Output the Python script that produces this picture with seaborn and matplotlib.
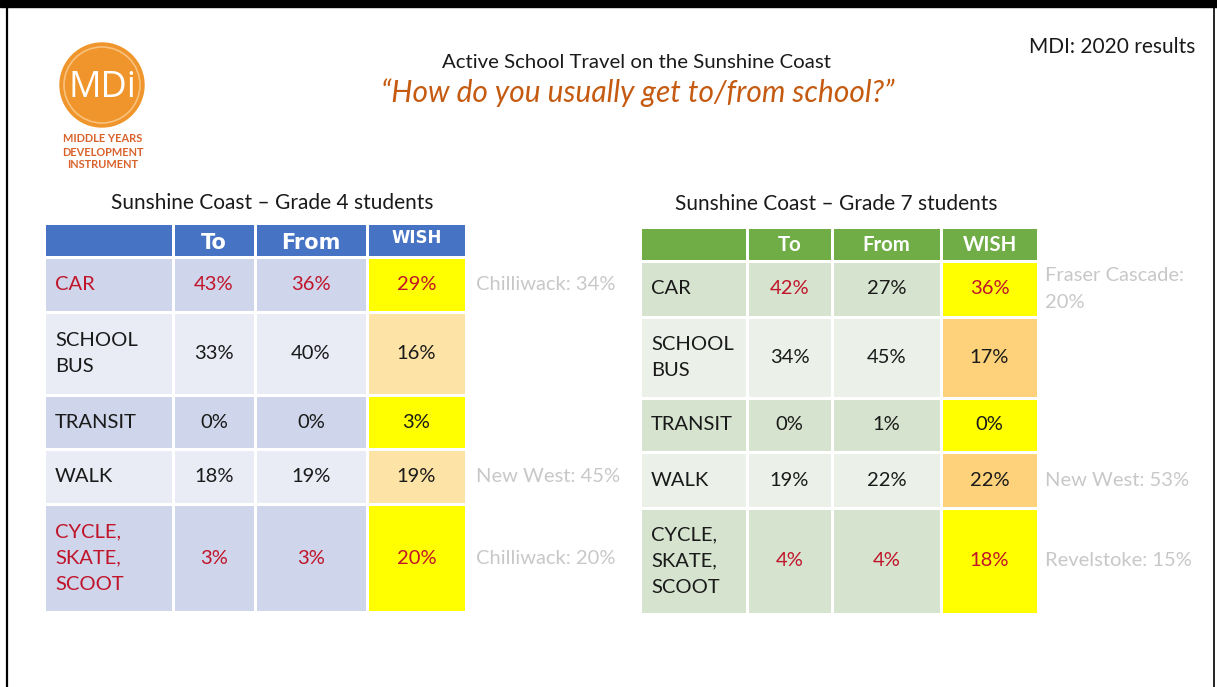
import numpy as np
import matplotlib
matplotlib.use('Agg')
import matplotlib.pyplot as plt
import matplotlib.colors as mcolors
from matplotlib.patches import Circle, Rectangle
import seaborn as sns

# Data
modes = ["CAR", "SCHOOL\nBUS", "TRANSIT", "WALK", "CYCLE,\nSKATE,\nSCOOT"]
columns = ["To", "From", "WISH"]

g4_to = [43, 33, 0, 18, 3]
g4_from = [36, 40, 0, 19, 3]
g4_wish = [29, 16, 3, 19, 20]
g4_notes = ["Chilliwack: 34%", "", "", "New West: 45%", "Chilliwack: 20%"]

g7_to = [42, 34, 0, 19, 4]
g7_from = [27, 45, 1, 22, 4]
g7_wish = [36, 17, 0, 22, 18]
g7_notes = ["Fraser Cascade:\n20%", "", "", "New West: 53%", "Revelstoke: 15%"]

sns.set_theme(style="white")
plt.rcParams['font.family'] = ['Lato', 'DejaVu Sans']

RED = '#c0142a'
NOTE = '#c8c8c8'
FS = 14.5


def draw_table(ax, title, title_xy, x_edges, y_edges, values, notes, header_color,
               bands, wish_colors, red_cells, header_font, note_x):
    n_rows = len(modes) + 1
    rgb = np.ones((n_rows, 4, 3))
    rgb[0, :] = mcolors.to_rgb(header_color)
    for i in range(len(modes)):
        band = mcolors.to_rgb(bands[i % 2])
        rgb[i + 1, :3] = band
        rgb[i + 1, 3] = mcolors.to_rgb(wish_colors[i])
    ax.pcolormesh(x_edges, y_edges, rgb, edgecolors='white', linewidth=1.8)

    xc = [(x_edges[j] + x_edges[j + 1]) / 2 for j in range(4)]
    yc = [(y_edges[i] + y_edges[i + 1]) / 2 for i in range(n_rows)]

    ax.text(title_xy[0], title_xy[1], title, ha='center', va='center',
            fontsize=15, color='#1a1a1a')
    family, sizes, dy = header_font
    for j, col in enumerate(columns):
        ax.text(xc[j + 1], yc[0] + dy[j], col, ha='center', va='center',
                fontsize=sizes[j], fontweight='bold', color='white',
                family=family)

    for i, mode in enumerate(modes):
        row_vals = [values[0][i], values[1][i], values[2][i]]
        label_red = red_cells[i][0]
        ax.text(x_edges[0] + 11, yc[i + 1], mode, ha='left', va='center',
                fontsize=FS, linespacing=1.65,
                color=RED if label_red else '#1a1a1a')
        for j, v in enumerate(row_vals):
            ax.text(xc[j + 1], yc[i + 1], f"{v}%", ha='center', va='center',
                    fontsize=FS, color=RED if red_cells[i][j + 1] else '#1a1a1a')
        if notes[i]:
            ax.text(note_x, yc[i + 1], notes[i], ha='left', va='center',
                    fontsize=FS, color=NOTE, linespacing=1.65)


fig = plt.figure(figsize=(12.17, 6.87), dpi=100)
ax = fig.add_axes([0, 0, 1, 1])
ax.set_xlim(0, 1217)
ax.set_ylim(687, 0)
ax.axis('off')

# slide frame
ax.add_patch(Rectangle((0, 0), 1217, 7, color='black'))
ax.plot([6.5, 6.5], [0, 687], color='black', lw=1.6)
ax.plot([1213.5, 1213.5], [0, 687], color='black', lw=1.2)

# logo
ax.add_patch(Circle((102, 85), 42, color='#f0952b'))
ax.add_patch(Circle((102, 85), 38, fill=False, ec='#f8c27e', lw=1.2))
ax.text(102, 88, "MDi", ha='center', va='center', fontsize=26,
        color='white', family='Open Sans')
for k, line in enumerate(["MIDDLE YEARS", "DEVELOPMENT", "INSTRUMENT"]):
    ax.text(103, 139 + k * 13, line, ha='center', va='center', fontsize=7.9,
            color='#d9622b', fontweight='bold')

# titles
ax.text(636, 62, "Active School Travel on the Sunshine Coast", ha='center',
        va='center', fontsize=14.7, color='#1a1a1a')
ax.text(638, 93, "\u201cHow do you usually get to/from school?\u201d", ha='center',
        va='center', fontsize=21.5, style='italic', color='#c55a11')
ax.text(1195, 47, "MDI: 2020 results", ha='right', va='center',
        fontsize=15, color='#1a1a1a')

red_g4 = [[True, True, True, True], [False] * 4, [False] * 4, [False] * 4,
          [True, True, True, True]]
red_g7 = [[False, True, False, True], [False] * 4, [False] * 4, [False] * 4,
          [False, True, True, True]]

draw_table(ax, "Sunshine Coast \u2013 Grade 4 students", (272, 203),
           [44, 173, 255, 367, 466], [223, 257, 312, 395, 449, 504, 612],
           [g4_to, g4_from, g4_wish], g4_notes, '#4773c5',
           ['#cfd5ea', '#e9ebf5'],
           ['#ffff00', '#fde3a6', '#ffff00', '#fde3a6', '#ffff00'],
           red_g4, ('DejaVu Sans', [15, 15, 12], [3, 3, -2]), 476)

draw_table(ax, "Sunshine Coast \u2013 Grade 7 students", (836, 204),
           [640, 747, 832, 941, 1038], [227, 261, 317, 398, 452, 508, 614],
           [g7_to, g7_from, g7_wish], g7_notes, '#70ad47',
           ['#d5e3cf', '#ebf1e9'],
           ['#ffff00', '#fed27b', '#ffff00', '#fed27b', '#ffff00'],
           red_g7, ('Lato', [14.7, 14.7, 14.7], [1, 1, 1]), 1045)

fig.savefig('out.png', dpi=100)
